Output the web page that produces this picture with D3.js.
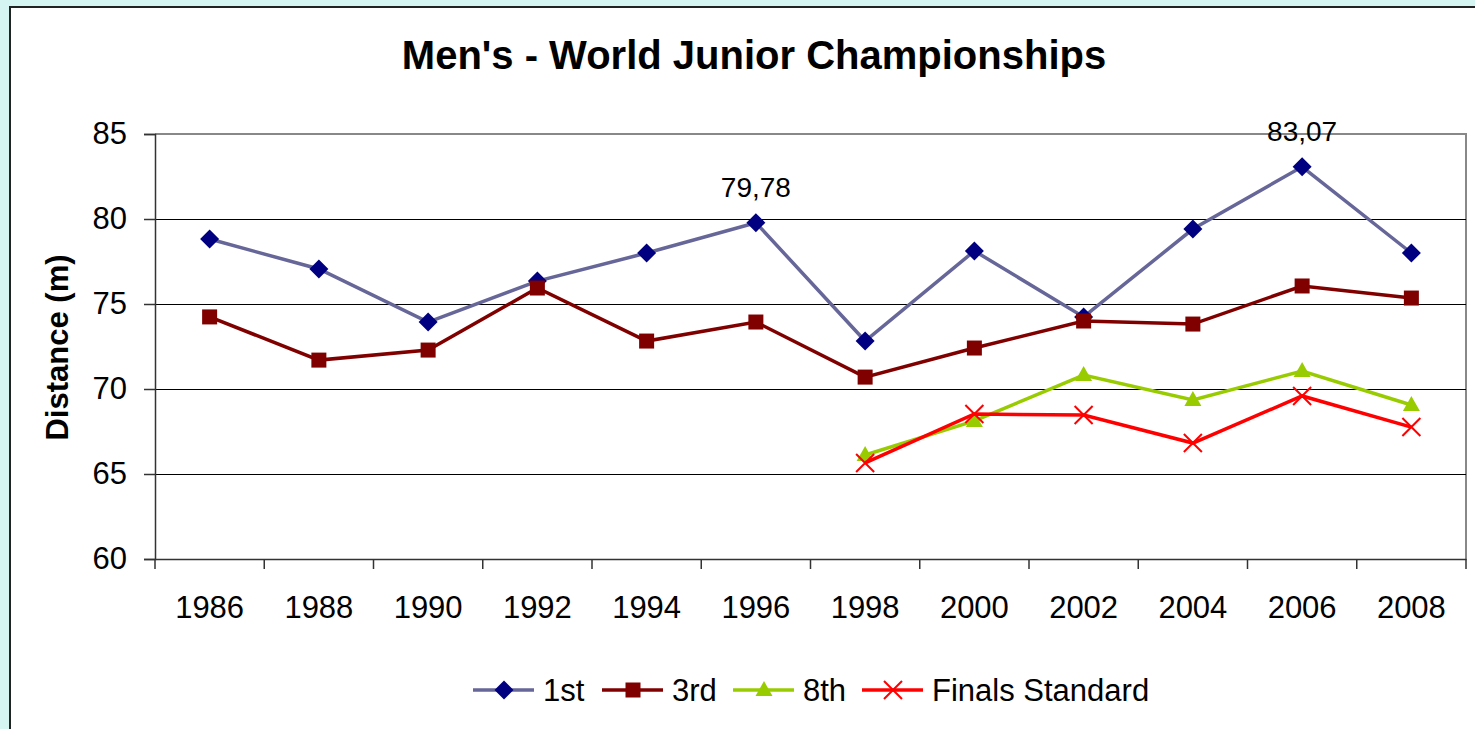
<!DOCTYPE html>
<html>
<head>
<meta charset="utf-8">
<script src="https://cdn.jsdelivr.net/npm/d3@7"></script>
<style>
  body { margin: 0; background: #d5f5f3; }
  svg { display: block; font-family: "Liberation Sans", Arial, sans-serif; }
</style>
</head>
<body>
<div id="chart"></div>
<script>
const years = ["1986","1988","1990","1992","1994","1996","1998","2000","2002","2004","2006","2008"];
const first = [78.82, 77.06, 73.94, 76.35, 78.0, 79.78, 72.82, 78.12, 74.24, 79.41, 83.07, 78.0];
const third = [74.24, 71.7, 72.29, 75.94, 72.82, 73.94, 70.7, 72.41, 74.0, 73.82, 76.06, 75.35];
const eighth = [null, null, null, null, null, null, 66.12, 68.12, 70.82, 69.35, 71.06, 69.06];
const finals = [null, null, null, null, null, null, 65.65, 68.53, 68.47, 66.82, 69.59, 67.76];
const yTicks = [60, 65, 70, 75, 80, 85];
const labelled = [{ year: "1996", text: "79,78" }, { year: "2006", text: "83,07" }];

const width = 1475, height = 729;
const plot = { left: 155, right: 1466, top: 134, bottom: 559 };
const font = "Liberation Sans, Arial, sans-serif";

const svg = d3.select("#chart").append("svg")
    .attr("width", width)
    .attr("height", height);

// chart area
svg.append("rect")
    .attr("x", 10).attr("y", 7)
    .attr("width", 1480).attr("height", 740)
    .attr("fill", "white")
    .attr("stroke", "#222")
    .attr("stroke-width", 2);

const x = d3.scaleBand().domain(years).range([plot.left, plot.right]);
const y = d3.scaleLinear().domain([60, 85]).range([plot.bottom, plot.top]);

// plot border (gray) top/right
svg.append("path")
    .attr("d", `M${plot.left},${plot.top}H${plot.right}V${plot.bottom}`)
    .attr("fill", "none")
    .attr("stroke", "#888")
    .attr("stroke-width", 2);

// gridlines
svg.append("g")
    .selectAll("line")
    .data(yTicks.filter(t => t > 60 && t < 85))
    .join("line")
    .attr("x1", plot.left).attr("x2", plot.right)
    .attr("y1", d => y(d) + 0.5).attr("y2", d => y(d) + 0.5)
    .attr("stroke", "black")
    .attr("stroke-width", 1);

// y axis
const yAxis = svg.append("g")
    .attr("transform", `translate(${plot.left},0)`)
    .call(d3.axisLeft(y).tickValues(yTicks).tickSize(11).tickPadding(17));
yAxis.select(".domain").attr("stroke", "#333").attr("stroke-width", 1.5);
yAxis.selectAll(".tick line").attr("stroke", "#333").attr("stroke-width", 1.5);
yAxis.selectAll("text").attr("font-size", 31).attr("fill", "black").attr("font-family", font);

// x axis
const xAxis = svg.append("g")
    .attr("transform", `translate(0,${plot.bottom})`)
    .call(d3.axisBottom(x).tickSize(0).tickPadding(37));
xAxis.select(".domain").attr("stroke", "#333").attr("stroke-width", 1.5);
xAxis.selectAll("text").attr("font-size", 31).attr("fill", "black").attr("font-family", font);
// boundary ticks between categories
svg.append("g")
    .selectAll("line")
    .data(years.map(d => x(d)).concat([plot.right]))
    .join("line")
    .attr("x1", d => d).attr("x2", d => d)
    .attr("y1", plot.bottom).attr("y2", plot.bottom + 10)
    .attr("stroke", "#333").attr("stroke-width", 1.5);

// title
svg.append("text")
    .attr("x", 754).attr("y", 69)
    .attr("text-anchor", "middle")
    .attr("font-size", 40).attr("font-weight", "bold")
    .text("Men's - World Junior Championships");

// y label
svg.append("text")
    .attr("transform", `translate(68,${(plot.top + plot.bottom) / 2 + 1}) rotate(-90)`)
    .attr("text-anchor", "middle")
    .attr("font-size", 31).attr("font-weight", "bold")
    .text("Distance (m)");

const cx = d => x(d) + x.bandwidth() / 2;

const series = [
  { name: "1st", values: first, line: "#666699", marker: "#000080", shape: "diamond" },
  { name: "3rd", values: third, line: "#800000", marker: "#800000", shape: "square" },
  { name: "8th", values: eighth, line: "#99cc00", marker: "#99cc00", shape: "triangle" },
  { name: "Finals Standard", values: finals, line: "#ff0000", marker: "#ff0000", shape: "cross" }
];

function drawMarker(g, shape, color) {
  if (shape === "diamond") {
    g.append("path").attr("d", "M0,-9.5L9.5,0L0,9.5L-9.5,0Z").attr("fill", color);
  } else if (shape === "square") {
    g.append("rect").attr("x", -7.5).attr("y", -7.5).attr("width", 15).attr("height", 15).attr("fill", color);
  } else if (shape === "triangle") {
    g.append("path").attr("d", "M0,-9L8.5,6L-8.5,6Z").attr("fill", color);
  } else {
    g.append("path").attr("d", "M-9,-9L9,9M-9,9L9,-9").attr("stroke", color).attr("stroke-width", 2);
  }
}

const line = d3.line()
    .defined(d => d.v != null)
    .x(d => cx(d.year))
    .y(d => y(d.v));

series.forEach(s => {
  const pts = years.map((yr, i) => ({ year: yr, v: s.values[i] }));
  svg.append("path")
      .datum(pts)
      .attr("d", line)
      .attr("fill", "none")
      .attr("stroke", s.line)
      .attr("stroke-width", 3.5);
  svg.append("g")
      .selectAll("g")
      .data(pts.filter(d => d.v != null))
      .join("g")
      .attr("transform", d => `translate(${cx(d.year)},${y(d.v)})`)
      .each(function () { drawMarker(d3.select(this), s.shape, s.marker); });
});

// data labels
svg.append("g")
    .selectAll("text")
    .data(labelled)
    .join("text")
    .attr("x", d => cx(d.year))
    .attr("y", d => y(first[years.indexOf(d.year)]) - 26)
    .attr("text-anchor", "middle")
    .attr("font-size", 28)
    .text(d => d.text);

// legend
const legendX = [473, 602, 733, 862];
const legend = svg.append("g");
series.forEach((s, i) => {
  const g = legend.append("g").attr("transform", `translate(${legendX[i]},690)`);
  g.append("line").attr("x1", 0).attr("x2", 61).attr("stroke", s.line).attr("stroke-width", 3.5);
  drawMarker(g.append("g").attr("transform", "translate(31,0)"), s.shape, s.marker);
  g.append("text").attr("x", 70).attr("y", 11).attr("font-size", 31).text(s.name);
});
</script>
</body>
</html>
